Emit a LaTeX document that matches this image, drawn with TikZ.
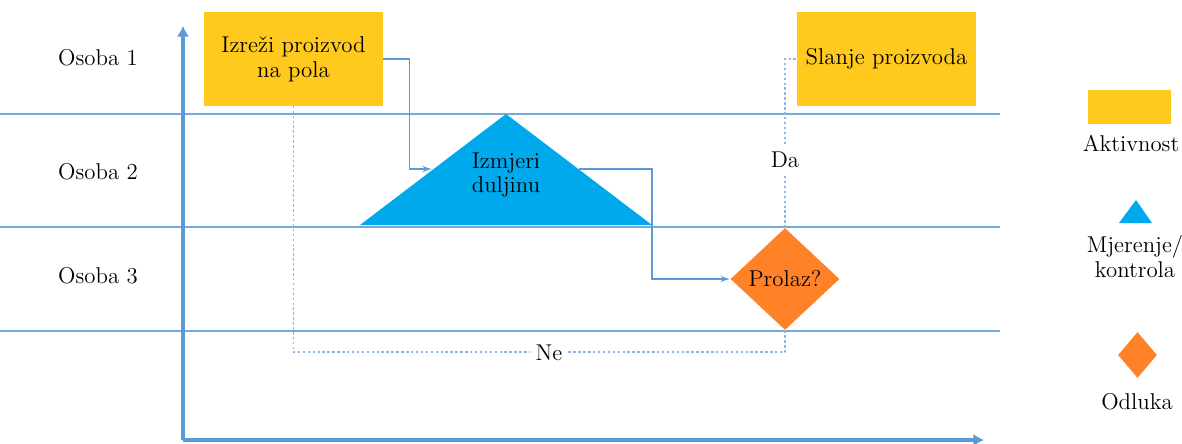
\documentclass[tikz,border=0pt]{standalone}
\usetikzlibrary{arrows,arrows.meta,positioning,shapes.geometric}
\definecolor{aktiv}{HTML}{FFC91D}
\definecolor{mjer}{HTML}{00A9EB}
\definecolor{odl}{HTML}{FF8229}
\definecolor{lane}{HTML}{5B9BD5}
\definecolor{dots}{HTML}{8DB6E2}

\begin{document}
\begin{tikzpicture}[x=0.02cm,y=-0.02cm,>=latex',every node/.append style={align=center,font=\fontsize{13}{14.2}\selectfont},
    akt/.style={fill=aktiv, minimum width=3.58cm, minimum height=1.88cm},
    odluka/.style={diamond, fill=odl, inner sep=0pt},
    axis/.style={draw=lane, line width=2pt, -{Latex[length=6pt,width=7pt]}},
    lanes/.style={draw=lane!85, line width=0.8pt},
    flow/.style={draw=lane, line width=0.9pt, ->},
    dotflow/.style={draw=dots, line width=1.1pt, dash pattern=on 1.4pt off 1.4pt}]
    \useasboundingbox (0,0) rectangle (1182,443);

    % staze
    \foreach \y in {114,227,331} \draw[lanes] (0,\y) -- (1000,\y);
    \node (O1) at (98,58)  {Osoba 1};
    \node (O2) at (98,172) {Osoba 2};
    \node (O3) at (98,276) {Osoba 3};

    \coordinate (O) at (183,440);
    \draw[axis] (O) -- (183,26);
    \draw[axis] (O) -- (984,440);

    \node [akt] (A) at (293.5,59) {Izreži proizvod\\na pola};
    \node [akt] (B) at (886.5,59) {Slanje proizvoda};

    \coordinate (Mtop) at (506,114);
    \coordinate (Mbl) at (360,225);
    \coordinate (Mbr) at (652,225);
    \fill[mjer] (Mtop) -- (Mbl) -- (Mbr) -- cycle;
    \node (M) at (506,175) {Izmjeri\\duljinu};
    \coordinate (Min) at (432,169);
    \coordinate (Mout) at (579,169);

    \node [odluka, minimum width=2.18cm, minimum height=2.04cm] (D) at (785,279) {Prolaz?};

    \draw[flow] (A.east) -- ++(26,0) |- (Min);
    \draw[flow] (Mout) -- (Mout -| Mbr) |- (D.west);
    \draw[dotflow] (D.north) |- node[pos=0.2, fill=white] {Da} (B.west);
    \draw[dotflow] (D.south) -- ++(0,22) -| node[pos=0.24, fill=white] {Ne} (A.south);

    % legenda
    \node [fill=aktiv, minimum width=1.66cm, minimum height=0.68cm] (LA) at (1129.5,107) {};
    \node (LAt) at (1131,143) {Aktivnost};
    \coordinate (LMtop) at (1136,200);
    \fill[mjer] (LMtop) -- (1119,223) -- (1152,223) -- cycle;
    \node (LMt) at (1135,257) {Mjerenje/\\kontrola};
    \node [odluka, minimum width=0.78cm, minimum height=0.92cm] (LD) at (1137.5,355) {};
    \node (LDt) at (1137,402) {Odluka};
\end{tikzpicture}
\end{document}
